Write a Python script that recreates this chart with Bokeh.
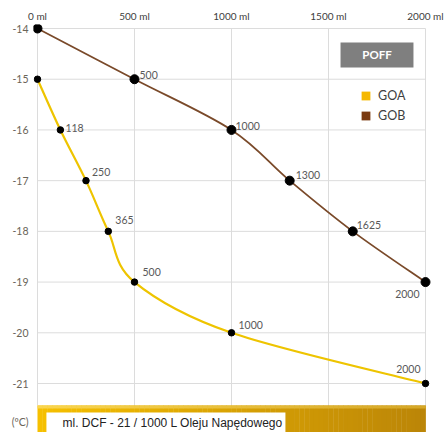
from bokeh.plotting import figure
from bokeh.models import (Range1d, LinearAxis, FixedTicker, Legend, LegendItem,
                          BoxAnnotation, Label, ColumnDataSource)
from bokeh.core.properties import value
from bokeh.embed import file_html
from bokeh.resources import INLINE

# ---- data ----
goa_ml = [0, 118, 250, 365, 500, 1000, 2000]
goa_temp = [-15, -16, -17, -18, -19, -20, -21]
goa_labels = ["", "118", "250", "365", "500", "1000", "2000"]

gob_ml = [0, 500, 1000, 1300, 1625, 2000]
gob_temp = [-14, -15, -16, -17, -18, -19]
gob_labels = ["", "500", "1000", "1300", "1625", "2000"]

x_ticks = [0, 500, 1000, 1500, 2000]
x_tick_labels = ["0 ml", "500 ml", "1000 ml", "1500 ml", "2000 ml"]
y_ticks = [-14, -15, -16, -17, -18, -19, -20, -21]
unit_label = "(ºC)"
unit_pos = -21.75

# ---- styles ----
GOA_COLOR = "#eec400"
GOB_COLOR = "#7a4a2a"
FONT = "Lato"
goa_label_dx = [0, 5, 6, 7, 8, 7, -5]
goa_label_dy = [0, -2, -9, -11, -10, -8, -15]
goa_label_align = ["left"] * 6 + ["right"]
gob_label_dx = [0, 5, 4, 6, 4, -6]
gob_label_dy = [0, -4, -4, -6, -6, 12]
gob_label_align = ["left"] * 5 + ["right"]

p = figure(width=447, height=432, output_backend="svg", toolbar_location=None,
           x_range=Range1d(-20.6, 2113.4), y_range=Range1d(-21.966, -13.921),
           x_axis_location=None, y_axis_location=None,
           min_border_left=33, min_border_right=0, min_border_top=24, min_border_bottom=0)
p.outline_line_color = None
p.grid.visible = False
p.background_fill_color = "white"
p.border_fill_color = "white"

# axes
top_axis = LinearAxis(ticker=FixedTicker(ticks=x_ticks),
                      major_label_overrides={t: l for t, l in zip(x_ticks, x_tick_labels)})
left_ticks = y_ticks + [unit_pos]
left_axis = LinearAxis(ticker=FixedTicker(ticks=left_ticks),
                       major_label_overrides={**{t: str(t) for t in y_ticks}, unit_pos: unit_label})
for ax in (top_axis, left_axis):
    ax.axis_line_color = None
    ax.major_tick_line_color = None
    ax.minor_tick_line_color = None
    ax.major_tick_out = 0
    ax.major_tick_in = 0
    ax.major_label_text_font = FONT
top_axis.major_label_text_font_size = "10px"
top_axis.major_label_standoff = 3
top_axis.major_label_text_color = "#404040"
left_axis.major_label_text_font_size = "10.5px"
left_axis.major_label_standoff = 5
left_axis.major_label_text_color = "#6a6458"
p.add_layout(top_axis, "above")
p.add_layout(left_axis, "left")

# gridlines
bar_top = -21.434
p.segment(x0=x_ticks, x1=x_ticks, y0=[y_ticks[0]] * len(x_ticks), y1=[bar_top] * len(x_ticks),
          line_color="#dcdcdc", line_width=1)
p.segment(x0=[x_ticks[0]] * len(y_ticks), x1=[x_ticks[-1]] * len(y_ticks), y0=y_ticks, y1=y_ticks,
          line_color="#dcdcdc", line_width=1)

# gold gradient bar at the bottom
n = 80
lefts, rights, cols, cols_top = [], [], [], []
c0, c1 = (246, 192, 0), (188, 134, 8)
t0, t1 = (250, 214, 80), (214, 168, 40)
for i in range(n):
    f = i / (n - 1)
    lefts.append(x_ticks[0] + (x_ticks[-1] - x_ticks[0]) * i / n)
    rights.append(x_ticks[0] + (x_ticks[-1] - x_ticks[0]) * (i + 1) / n + 2)
    cols.append("#%02x%02x%02x" % tuple(int(a + (b - a) * f) for a, b in zip(c0, c1)))
    cols_top.append("#%02x%02x%02x" % tuple(int(a + (b - a) * f) for a, b in zip(t0, t1)))
p.quad(left=lefts, right=rights, top=[bar_top] * n, bottom=[-22.0] * n, fill_color=cols, line_color=None)
p.quad(left=lefts, right=rights, top=[bar_top] * n, bottom=[bar_top - 0.06] * n, fill_color=cols_top, line_color=None)
p.quad(left=[46], right=[1278], top=[-21.572], bottom=[-22.0], fill_color="white", line_color=None)
p.text(x=[129], y=[-21.77], text=["ml. DCF - 21 / 1000 L Oleju Napędowego"],
       text_font=value("Liberation Sans"), text_font_size="12px", text_color="#222222",
       text_baseline="middle", text_align="left")


def smooth_curve(xs, ys):
    """Bezier segments (Catmull-Rom style) passing through the given points."""
    px = [xs[0]] + list(xs) + [xs[-1]]
    py = [ys[0]] + list(ys) + [ys[-1]]
    d = dict(x0=[], y0=[], x1=[], y1=[], cx0=[], cy0=[], cx1=[], cy1=[])
    for i in range(1, len(px) - 2):
        d["x0"].append(px[i]); d["y0"].append(py[i])
        d["x1"].append(px[i + 1]); d["y1"].append(py[i + 1])
        d["cx0"].append(px[i] + (px[i + 1] - px[i - 1]) / 6)
        d["cy0"].append(py[i] + (py[i + 1] - py[i - 1]) / 6)
        d["cx1"].append(px[i + 1] - (px[i + 2] - px[i]) / 6)
        d["cy1"].append(py[i + 1] - (py[i + 2] - py[i]) / 6)
    return ColumnDataSource(d)


p.bezier(x0="x0", y0="y0", x1="x1", y1="y1", cx0="cx0", cy0="cy0", cx1="cx1", cy1="cy1",
         source=smooth_curve(gob_ml, gob_temp), line_color=GOB_COLOR, line_width=1.8)
p.bezier(x0="x0", y0="y0", x1="x1", y1="y1", cx0="cx0", cy0="cy0", cx1="cx1", cy1="cy1",
         source=smooth_curve(goa_ml, goa_temp), line_color=GOA_COLOR, line_width=2.2)

p.scatter(gob_ml, gob_temp, size=9, fill_color="black", line_color="black")
p.scatter(goa_ml, goa_temp, size=6.5, fill_color="black", line_color="black")

p.text(x=goa_ml, y=goa_temp, text=goa_labels, x_offset=goa_label_dx, y_offset=goa_label_dy,
       text_align=goa_label_align, text_baseline="middle",
       text_font=value(FONT), text_font_size="10.5px", text_color="#595959")
p.text(x=gob_ml, y=gob_temp, text=gob_labels, x_offset=gob_label_dx, y_offset=gob_label_dy,
       text_align=gob_label_align, text_baseline="middle",
       text_font=value(FONT), text_font_size="10.5px", text_color="#595959")

# POFF button
p.add_layout(BoxAnnotation(left=1562, right=1938, top=-14.276, bottom=-14.769,
                           fill_color="#7f7f7f", fill_alpha=1, line_color=None))
p.add_layout(Label(x=1750, y=-14.52, text="POFF", text_align="center", text_baseline="middle",
                   text_font=FONT, text_font_size="11.5px", text_font_style="bold",
                   text_color="white"))

# legend (zero-size quads on the series points act as legend proxies)
goa_sq = p.quad(left=goa_ml, right=goa_ml, top=goa_temp, bottom=goa_temp,
                fill_color="#f5b800", line_color=None)
gob_sq = p.quad(left=gob_ml, right=gob_ml, top=gob_temp, bottom=gob_temp,
                fill_color="#7a3a10", line_color=None)
legend = Legend(items=[LegendItem(label="GOA", renderers=[goa_sq]),
                       LegendItem(label="GOB", renderers=[gob_sq])],
                location=(327, 309), padding=0, margin=0, spacing=5,
                glyph_width=11, glyph_height=11, label_standoff=7,
                label_text_font=FONT, label_text_font_size="12.5px", label_text_color="#404040",
                background_fill_alpha=0, border_line_color=None)
p.add_layout(legend, "center")

open("out.html", "w").write(file_html(p, INLINE))
